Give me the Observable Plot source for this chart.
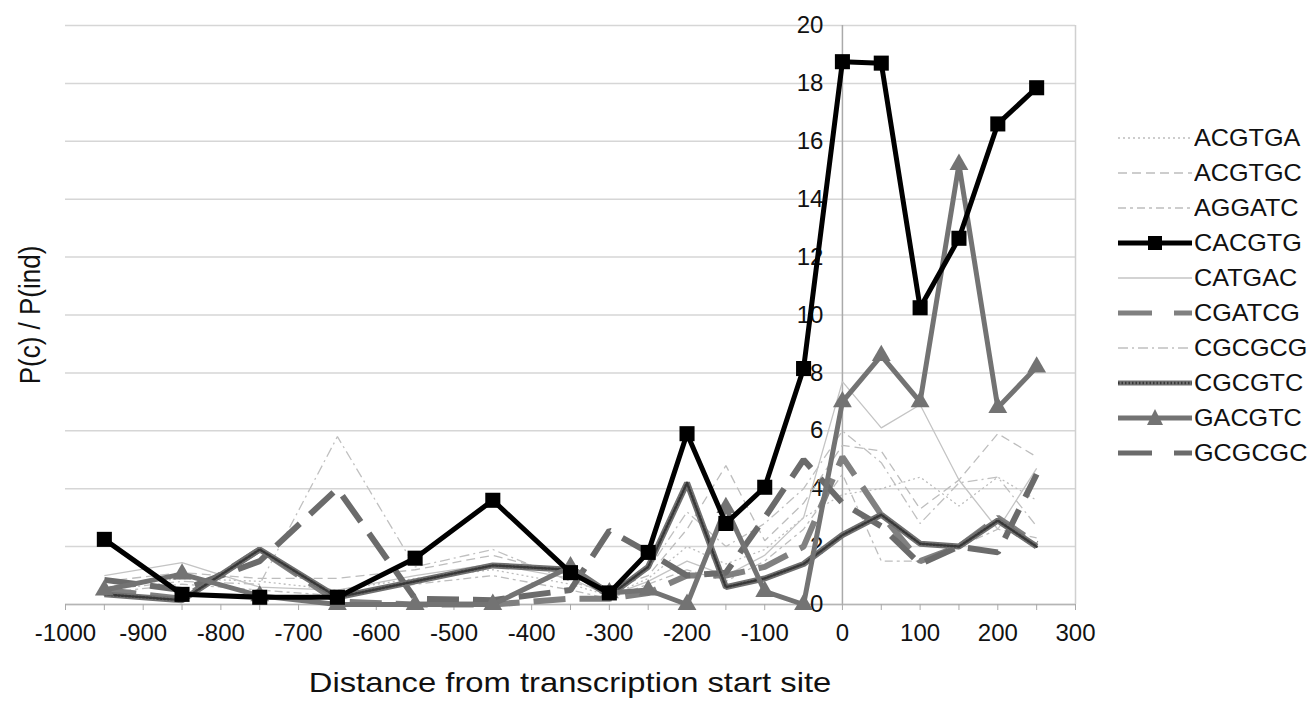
<!DOCTYPE html>
<html><head><meta charset="utf-8">
<script src="https://cdn.jsdelivr.net/npm/d3@7"></script>
<script src="https://cdn.jsdelivr.net/npm/@observablehq/plot@0.6"></script>
<style>
body{margin:0;background:#fff;font-family:"Liberation Sans",Arial,sans-serif;}
#wrap{position:relative;width:1308px;height:701px;overflow:hidden;}
#legend{position:absolute;left:1116px;top:120px;}
.row{height:35px;display:flex;align-items:center;font-size:24px;color:#111;}
.row span{display:inline-block;transform:scaleX(1.05);transform-origin:left center;}
.row svg{display:block;margin-right:2px;}
#xtitle{position:absolute;left:570px;top:683px;font-size:28px;white-space:nowrap;transform:translate(-50%,-50%) scaleX(1.17);color:#111;}
#ytitle{position:absolute;left:30px;top:315px;font-size:26px;white-space:nowrap;transform:translate(-50%,-50%) rotate(-90deg) scale(1,1.17);color:#111;}
</style></head><body><div id="wrap"><div id="chart"></div><div id="legend"></div><div id="xtitle"></div><div id="ytitle"></div></div>
<script>
// Positions (distance from transcription start site)
const positions = [-950,-850,-750,-650,-550,-450,-350,-300,-250,-200,-150,-100,-50,0,50,100,150,200,250];
// Series values P(c)/P(ind)
const ACGTGA = [0.6,0.9,0.8,0.5,0.9,1.2,0.7,0.3,0.9,2.0,1.4,1.9,3.0,3.8,4.0,4.4,3.4,4.4,3.6];
const ACGTGC = [0.8,1.1,0.9,0.9,1.2,1.7,1.0,0.5,1.0,2.6,4.8,2.2,3.5,5.5,5.3,3.3,4.3,5.9,5.1];
const AGGATC = [0.4,0.7,0.5,0.3,0.7,1.0,0.5,0.2,0.7,1.2,0.8,1.5,2.6,4.5,1.5,1.5,2.0,2.6,2.3];
const CACGTG = [2.25,0.35,0.25,0.25,1.6,3.6,1.1,0.4,1.8,5.9,2.8,4.05,8.15,18.75,18.7,10.25,12.65,16.6,17.85];
const CATGAC = [1.0,1.45,0.6,0.5,1.0,1.4,0.9,0.3,0.8,1.5,1.0,1.7,3.0,7.7,6.1,6.9,4.3,2.6,4.7];
const CGATCG = [0.5,0.2,1.9,0.1,0.0,0.0,0.2,0.2,0.4,1.0,1.0,1.3,2.0,5.1,3.1,1.5,2.0,3.0,2.1];
const CGCGCG = [0.5,0.8,0.7,5.8,1.3,1.9,0.8,0.4,1.2,3.2,2.0,2.8,4.0,6.0,4.9,2.8,4.2,4.4,2.7];
const CGCGTC = [0.35,0.15,1.9,0.25,0.8,1.35,1.2,0.3,1.3,4.2,0.6,0.9,1.4,2.4,3.1,2.1,2.0,2.9,2.0];
const GACGTC = [0.5,1.05,0.3,0.0,0.0,0.0,1.3,0.4,0.5,0.0,3.35,0.45,0.0,7.0,8.6,7.0,15.2,6.8,8.2];
const GCGCGC = [0.85,0.5,1.5,4.0,0.2,0.15,0.5,2.55,1.8,1.0,1.1,3.0,5.0,3.5,2.7,1.4,2.0,1.8,4.5];

const seriesNames = ["ACGTGA","ACGTGC","AGGATC","CACGTG","CATGAC","CGATCG","CGCGCG","CGCGTC","GACGTC","GCGCGC"];
const seriesValues = {ACGTGA, ACGTGC, AGGATC, CACGTG, CATGAC, CGATCG, CGCGCG, CGCGTC, GACGTC, GCGCGC};
const yTicks = [0,2,4,6,8,10,12,14,16,18,20];
const xTicks = [-1000,-900,-800,-700,-600,-500,-400,-300,-200,-100,0,100,200,300];
const xMinorTicks = [-1000,-950,-900,-850,-800,-750,-700,-650,-600,-550,-500,-450,-400,-350,-300,-250,-200,-150,-100,-50,0,50,100,150,200,250,300];
const xTitle = "Distance from transcription start site";
const yTitle = "P(c) / P(ind)";

const styles = {
  ACGTGA: {stroke:"#bdbdbd", w:1.3, dash:"2,3"},
  ACGTGC: {stroke:"#bdbdbd", w:1.3, dash:"9,5"},
  AGGATC: {stroke:"#bdbdbd", w:1.3, dash:"8,4,3,4"},
  CACGTG: {stroke:"#000000", w:5, dash:null, marker:"square", r:8.5},
  CATGAC: {stroke:"#c4c4c4", w:1.3, dash:null},
  CGATCG: {stroke:"#808080", w:6, dash:"32,14"},
  CGCGCG: {stroke:"#c0c0c0", w:1.3, dash:"10,4,2,4"},
  CGCGTC: {stroke:"#707070", w:6, dash:null, hatch:true},
  GACGTC: {stroke:"#737373", w:5, dash:null, marker:"triangle", r:7},
  GCGCGC: {stroke:"#6b6b6b", w:6, dash:"32,14"}
};

const rows = name => positions.map((p, i) => ({x: p, y: seriesValues[name][i]}));
const drawOrder = ["ACGTGA","ACGTGC","AGGATC","CATGAC","CGCGCG","CGATCG","GCGCGC","CGCGTC","GACGTC","CACGTG"];

const lineMarks = [];
for (const name of drawOrder) {
  const s = styles[name];
  const data = rows(name);
  lineMarks.push(Plot.line(data, {x:"x", y:"y", stroke:s.stroke, strokeWidth:s.w, strokeDasharray:s.dash || undefined, strokeLinejoin:"miter", strokeLinecap:"butt"}));
  if (s.hatch) lineMarks.push(Plot.line(data, {x:"x", y:"y", stroke:"#383838", strokeWidth:2.5, strokeDasharray:"1.5,2"}));
  if (s.marker) lineMarks.push(Plot.dot(data, {x:"x", y:"y", symbol:s.marker, r:s.r, fill:s.stroke, stroke:"none"}));
}

const chart = Plot.plot({
  width: 1308, height: 701,
  marginLeft: 65, marginRight: 233, marginTop: 25, marginBottom: 97,
  style: {fontFamily: "Liberation Sans, Arial, sans-serif", fontSize: "24px", color: "#111", background: "#fff"},
  x: {domain: [-1000, 300]},
  y: {domain: [0, 20], axis: null},
  marks: [
    Plot.gridY(yTicks, {stroke: "#d6d6d6", strokeOpacity: 1, strokeWidth: 1.5}),
    Plot.ruleX([300], {stroke: "#d0d0d0", strokeWidth: 1.5}),
    Plot.ruleX([0], {stroke: "#aaaaaa", strokeWidth: 1.5}),
    Plot.ruleY([0], {stroke: "#b5b5b5", strokeWidth: 1.5}),
    Plot.axisX({ticks: xMinorTicks, tickSize: 6, tickPadding: 13, stroke: "#aaaaaa", fill: "#111", fontSize: 24,
      tickFormat: d => (xTicks.includes(d) ? String(d) : ""), label: null}),
    Plot.text(yTicks, {x: 0, y: d => d, text: d => String(d), dx: -19, textAnchor: "end", fontSize: 24, fill: "#111"}),
    ...lineMarks
  ]
});
document.getElementById("chart").appendChild(chart);
document.getElementById("xtitle").textContent = xTitle;
document.getElementById("ytitle").textContent = yTitle;

// Legend
const legend = document.getElementById("legend");
const ns = "http://www.w3.org/2000/svg";
for (const name of seriesNames) {
  const s = styles[name];
  const row = document.createElement("div");
  row.className = "row";
  const svg = document.createElementNS(ns, "svg");
  svg.setAttribute("width", 76); svg.setAttribute("height", 24);
  const ln = document.createElementNS(ns, "line");
  ln.setAttribute("x1", 2); ln.setAttribute("x2", 76); ln.setAttribute("y1", 12); ln.setAttribute("y2", 12);
  ln.setAttribute("stroke", s.stroke); ln.setAttribute("stroke-width", Math.min(s.w, 5));
  if (s.dash) ln.setAttribute("stroke-dasharray", s.w > 3 ? "34,22" : s.dash);
  svg.appendChild(ln);
  if (s.hatch) {
    const h = document.createElementNS(ns, "line");
    h.setAttribute("x1", 2); h.setAttribute("x2", 76); h.setAttribute("y1", 12); h.setAttribute("y2", 12);
    h.setAttribute("stroke", "#383838"); h.setAttribute("stroke-width", 2.5); h.setAttribute("stroke-dasharray", "1.5,2");
    svg.appendChild(h);
  }
  if (s.marker === "square") {
    const r = document.createElementNS(ns, "rect");
    r.setAttribute("x", 32); r.setAttribute("y", 5); r.setAttribute("width", 14); r.setAttribute("height", 14); r.setAttribute("fill", s.stroke);
    svg.appendChild(r);
  } else if (s.marker === "triangle") {
    const p = document.createElementNS(ns, "path");
    p.setAttribute("d", "M39,3 L47,19 L31,19 Z"); p.setAttribute("fill", s.stroke);
    svg.appendChild(p);
  }
  row.appendChild(svg);
  const t = document.createElement("span"); t.textContent = name;
  row.appendChild(t);
  legend.appendChild(row);
}
</script></body></html>
